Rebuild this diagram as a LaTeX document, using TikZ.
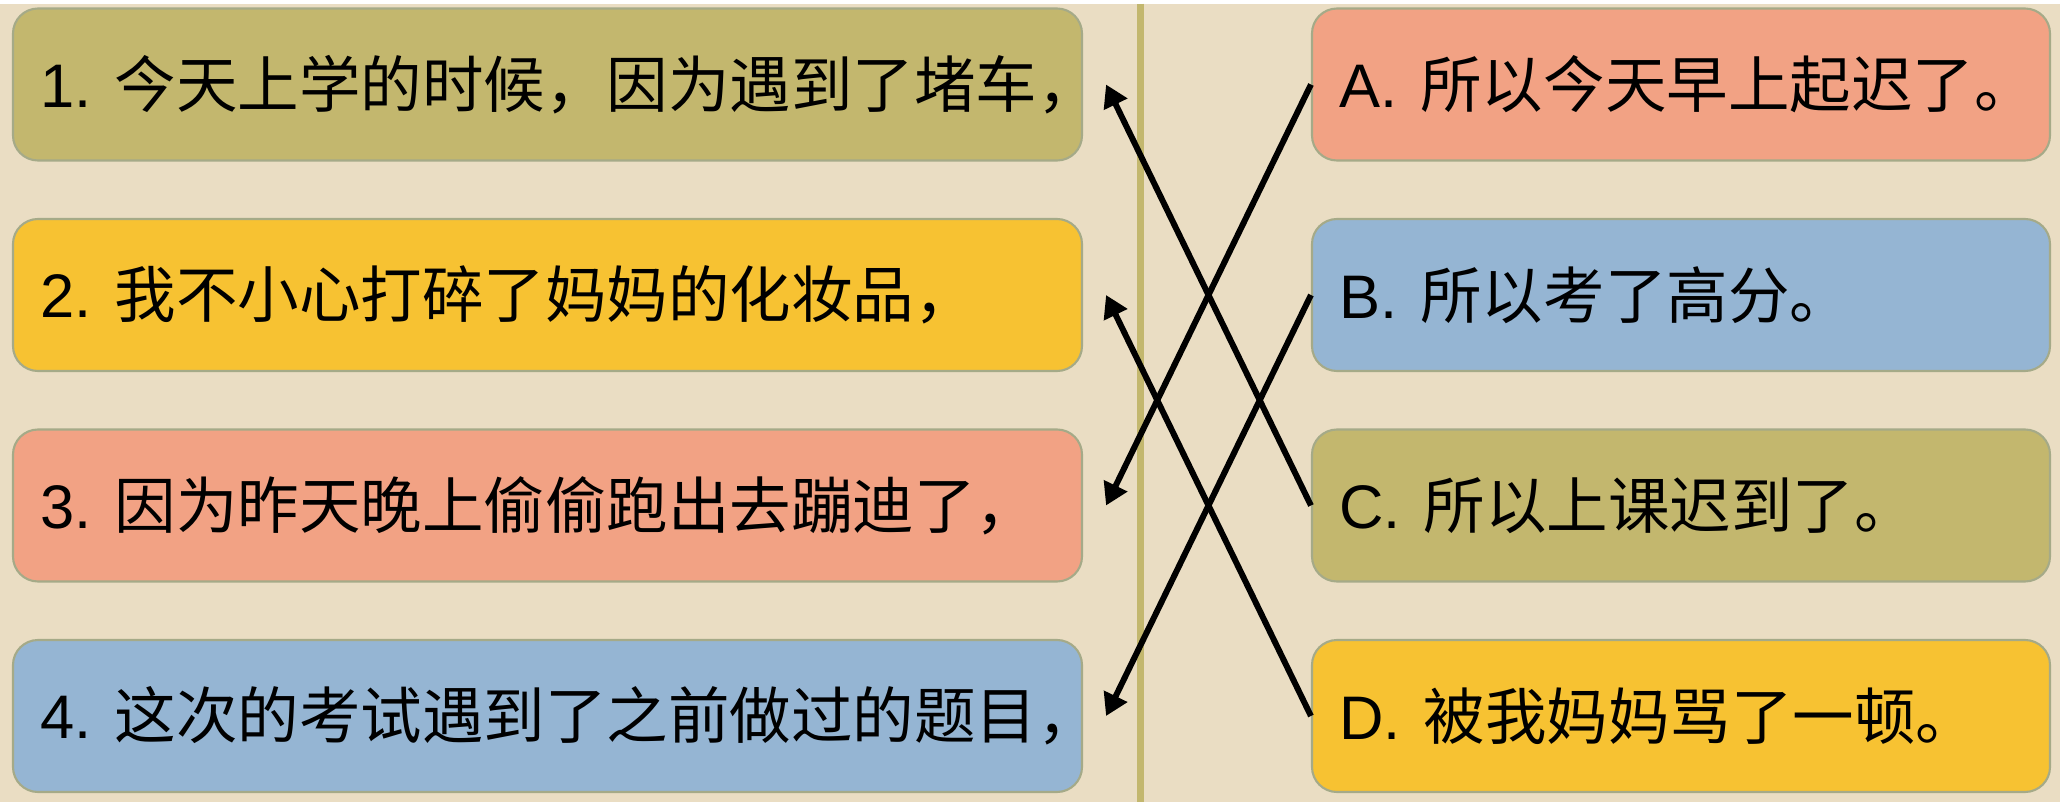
\documentclass[tikz,border=0pt]{standalone}
\usepackage{fontspec}
\setmainfont{Liberation Sans}
\newfontfamily\cjk{Noto Sans CJK SC}
\usetikzlibrary{arrows.meta}

\definecolor{bg}{HTML}{EADDC3}
\definecolor{boxolive}{HTML}{C3B76E}
\definecolor{boxyellow}{HTML}{F7C232}
\definecolor{boxsalmon}{HTML}{F2A284}
\definecolor{boxblue}{HTML}{95B5D3}
\definecolor{boxedge}{HTML}{A5AA88}

\begin{document}
\begin{tikzpicture}[
  box/.style = {draw = boxedge, line width = 0.6pt, rounded corners = 0.25cm, minimum height = 1.52cm, inner xsep = 0.27cm, align = left, font = \fontsize{17.5}{20}\selectfont},
  lbox/.style = {box, text width = 10.15cm},
  rbox/.style = {box, text width = 6.84cm},
  arr/.style = {-{Triangle[length = 0.22cm, width = 0.25cm]}, line width = 1.7pt}
]

\fill[bg] (0,0) rectangle (20.6,-7.98);
\draw[boxolive, line width = 0.07cm] (11.40,0) -- (11.40,-7.98);

\node[lbox, fill = boxolive] (n1) at (5.475,-0.81) {1.\kern0.38em\cjk 今天上学的时候，因为遇到了堵车，};
\node[lbox, fill = boxyellow] (n2) at (5.475,-2.915) {2.\kern0.38em\cjk 我不小心打碎了妈妈的化妆品，};
\node[lbox, fill = boxsalmon] (n3) at (5.475,-5.02) {3.\kern0.38em\cjk 因为昨天晚上偷偷跑出去蹦迪了，};
\node[lbox, fill = boxblue] (n4) at (5.475,-7.125) {4.\kern0.38em\cjk 这次的考试遇到了之前做过的题目，};

\node[rbox, fill = boxsalmon] (ra) at (16.81,-0.81) {A.\kern0.38em\cjk 所以今天早上起迟了。};
\node[rbox, fill = boxblue] (rb) at (16.81,-2.915) {B.\kern0.38em\cjk 所以考了高分。};
\node[rbox, fill = boxolive] (rc) at (16.81,-5.02) {C.\kern0.38em\cjk 所以上课迟到了。};
\node[rbox, fill = boxyellow] (rd) at (16.81,-7.125) {D.\kern0.38em\cjk 被我妈妈骂了一顿。};

\coordinate (t1) at ([xshift = 0.23cm]n1.east);
\coordinate (t2) at ([xshift = 0.23cm]n2.east);
\coordinate (t3) at ([xshift = 0.23cm]n3.east);
\coordinate (t4) at ([xshift = 0.23cm]n4.east);

\draw[arr] (ra.west) -- (t3);
\draw[arr] (rb.west) -- (t4);
\draw[arr] (rc.west) -- (t1);
\draw[arr] (rd.west) -- (t2);

\end{tikzpicture}
\end{document}
